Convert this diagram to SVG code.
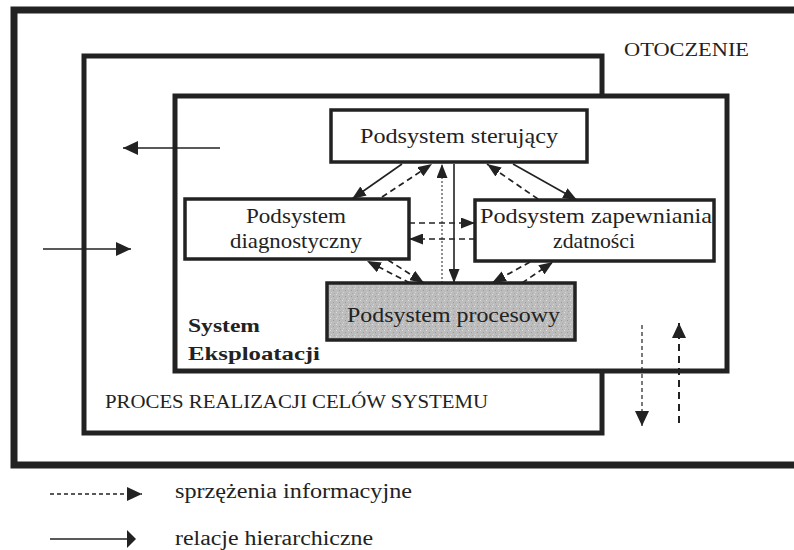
<svg xmlns="http://www.w3.org/2000/svg" width="794" height="550" viewBox="0 0 794 550">
<style>
  .frame{fill:none;stroke:#222;stroke-linejoin:miter}
  .box{fill:#fff;stroke:#222;stroke-width:3.5}
  text{font-family:'Liberation Serif','DejaVu Serif',serif;fill:#222}
  .solid{stroke:#222;stroke-width:1.6;fill:none}
  .dash{stroke:#222;stroke-width:1.7;fill:none;stroke-dasharray:6 4}
</style>
<defs>
  <marker id="ah" markerUnits="userSpaceOnUse" markerWidth="15" markerHeight="11" refX="14" refY="5.5" orient="auto">
    <path d="M0,0 L14,5.5 L0,11 z" fill="#222"/>
  </marker>
  <marker id="ahb" markerUnits="userSpaceOnUse" markerWidth="16" markerHeight="14" refX="15" refY="7" orient="auto">
    <path d="M0,0 L15,7 L0,14 z" fill="#222"/>
  </marker>
  <pattern id="grain" width="6" height="6" patternUnits="userSpaceOnUse">
    <rect width="6" height="6" fill="#bcbcbc"/>
    <rect x="0" y="0" width="1" height="1" fill="#e0e0e0"/>
    <rect x="3" y="2" width="1" height="1" fill="#9a9a9a"/>
    <rect x="1" y="4" width="1" height="1" fill="#d4d4d4"/>
    <rect x="4" y="5" width="1" height="1" fill="#a8a8a8"/>
  </pattern>
</defs>

<g id="otoczenie">
  <path class="frame" d="M794,10 H14 V465 H794" stroke-width="7"/>
  <text x="624" y="56" font-family="Liberation Serif, DejaVu Serif, serif" font-size="18" textLength="125" lengthAdjust="spacingAndGlyphs">OTOCZENIE</text>
</g>

<g id="proces">
  <rect class="frame" x="84" y="56" width="518" height="377" stroke-width="5"/>
  <text x="105" y="408" font-family="Liberation Serif, DejaVu Serif, serif" font-size="19" textLength="383" lengthAdjust="spacingAndGlyphs">PROCES REALIZACJI CELÓW SYSTEMU</text>
</g>

<g id="system-eksploatacji">
  <rect x="175" y="96" width="552" height="275" fill="#fff" stroke="#222" stroke-width="5"/>
  <text x="188" y="332" font-family="Liberation Serif, DejaVu Serif, serif" font-size="19" font-weight="bold" textLength="72" lengthAdjust="spacingAndGlyphs">System</text>
  <text x="188" y="360" font-family="Liberation Serif, DejaVu Serif, serif" font-size="19" font-weight="bold" textLength="132" lengthAdjust="spacingAndGlyphs">Eksploatacji</text>
</g>

<g id="sterujacy">
  <rect class="box" x="331" y="110" width="256" height="52"/>
  <text x="360" y="143" font-family="Liberation Serif, DejaVu Serif, serif" font-size="22" textLength="198" lengthAdjust="spacingAndGlyphs">Podsystem sterujący</text>
</g>

<g id="diagnostyczny">
  <rect class="box" x="185" y="199" width="224" height="60"/>
  <text x="246" y="223" font-family="Liberation Serif, DejaVu Serif, serif" font-size="22" textLength="100" lengthAdjust="spacingAndGlyphs">Podsystem</text>
  <text x="230" y="248" font-family="Liberation Serif, DejaVu Serif, serif" font-size="22" textLength="132" lengthAdjust="spacingAndGlyphs">diagnostyczny</text>
</g>

<g id="zapewniania">
  <rect class="box" x="475" y="200" width="239" height="61"/>
  <text x="480" y="223" font-family="Liberation Serif, DejaVu Serif, serif" font-size="22" textLength="232" lengthAdjust="spacingAndGlyphs">Podsystem zapewniania</text>
  <text x="553" y="248" font-family="Liberation Serif, DejaVu Serif, serif" font-size="22" textLength="82" lengthAdjust="spacingAndGlyphs">zdatności</text>
</g>

<g id="procesowy">
  <rect x="327" y="283" width="248" height="57" fill="url(#grain)" stroke="#222" stroke-width="3.5"/>
  <text x="347" y="322" font-family="Liberation Serif, DejaVu Serif, serif" font-size="22" textLength="213" lengthAdjust="spacingAndGlyphs">Podsystem procesowy</text>
</g>

<g id="connectors">
  <line class="solid" x1="220" y1="148" x2="123" y2="148" marker-end="url(#ahb)"/>
  <line class="solid" x1="43" y1="249" x2="131" y2="249" marker-end="url(#ahb)"/>
  <line class="solid" x1="402" y1="164" x2="352" y2="199" marker-end="url(#ah)"/>
  <line class="dash" x1="382" y1="197" x2="432" y2="164" marker-end="url(#ah)"/>
  <line x1="442" y1="283" x2="442" y2="164" stroke="#222" stroke-width="1" stroke-dasharray="2 2" marker-end="url(#ah)"/>
  <line class="solid" x1="454" y1="164" x2="454" y2="283" marker-end="url(#ah)"/>
  <line class="dash" x1="538" y1="199" x2="487" y2="164" marker-end="url(#ah)"/>
  <line class="solid" x1="513" y1="164" x2="577" y2="200" marker-end="url(#ah)"/>
  <line class="dash" x1="409" y1="223" x2="475" y2="223" marker-end="url(#ah)"/>
  <line class="dash" x1="475" y1="239" x2="409" y2="239" marker-end="url(#ah)"/>
  <line class="dash" x1="410" y1="283" x2="367" y2="261" marker-end="url(#ah)"/>
  <line class="dash" x1="388" y1="260" x2="424" y2="283" marker-end="url(#ah)"/>
  <line class="dash" x1="530" y1="262" x2="492" y2="283" marker-end="url(#ah)"/>
  <line class="dash" x1="522" y1="283" x2="553" y2="262" marker-end="url(#ah)"/>
  <line x1="642" y1="325" x2="642" y2="426" stroke="#222" stroke-width="1.2" stroke-dasharray="4 3" marker-end="url(#ahb)"/>
  <line x1="679" y1="423" x2="679" y2="323" stroke="#222" stroke-width="2" stroke-dasharray="7 5" marker-end="url(#ahb)"/>
</g>

<g id="legend">
  <line x1="50" y1="494" x2="142" y2="494" stroke="#222" stroke-width="1.3" stroke-dasharray="4 3" marker-end="url(#ahb)"/>
  <text x="175" y="498" font-family="Liberation Serif, DejaVu Serif, serif" font-size="20" textLength="237" lengthAdjust="spacingAndGlyphs">sprzężenia informacyjne</text>
  <line x1="50" y1="539" x2="130" y2="539" stroke="#222" stroke-width="1.6"/>
  <path d="M127,530 L136,539 L127,548 Z" fill="#222"/>
  <text x="175" y="545" font-family="Liberation Serif, DejaVu Serif, serif" font-size="20" textLength="198" lengthAdjust="spacingAndGlyphs">relacje hierarchiczne</text>
</g>
</svg>
